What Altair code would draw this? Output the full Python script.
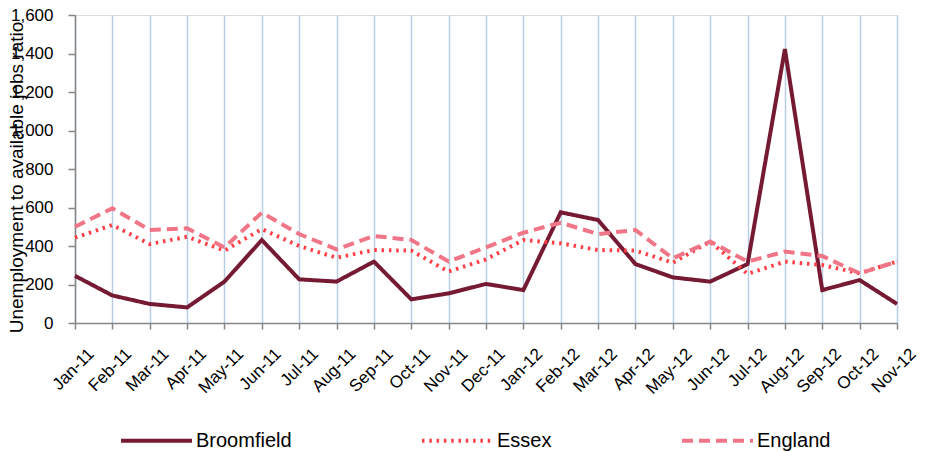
import altair as alt
import pandas as pd

months = ["Jan-11", "Feb-11", "Mar-11", "Apr-11", "May-11", "Jun-11", "Jul-11", "Aug-11",
          "Sep-11", "Oct-11", "Nov-11", "Dec-11", "Jan-12", "Feb-12", "Mar-12", "Apr-12",
          "May-12", "Jun-12", "Jul-12", "Aug-12", "Sep-12", "Oct-12", "Nov-12"]
broomfield = [245, 143, 99, 81, 215, 431, 227, 215, 319, 123, 154, 203,
              171, 575, 535, 306, 237, 215, 306, 1423, 171, 223, 99]
essex = [443, 509, 410, 448, 376, 488, 400, 339, 379, 376, 267, 331,
         431, 414, 379, 376, 313, 423, 255, 319, 301, 258, 319]
england = [500, 596, 483, 492, 393, 573, 462, 383, 452, 431, 319, 393,
           469, 521, 462, 483, 336, 423, 319, 371, 348, 258, 319]
series_names = ["Broomfield", "Essex", "England"]
y_ticks = [0, 200, 400, 600, 800, 1000, 1200, 1400, 1600]

rows = []
for name, vals in zip(series_names, [broomfield, essex, england]):
    for m, v in zip(months, vals):
        rows.append({"month": m, "series": name, "value": v})
df = pd.DataFrame(rows)

FONT = "Liberation Sans"
colors = ["#761A33", "#FF4048", "#F07586"]
dashes = [[1, 0], [2.5, 4.8], [11, 6]]

legend = alt.Legend(
    title=None, orient="none", direction="horizontal", legendX=44, legendY=388,
    symbolType="stroke", symbolSize=5041, symbolStrokeWidth=4, labelFontSize=20,
    labelFont=FONT, labelColor="black", labelOffset=2, columnPadding=122,
    labelLimit=500, padding=0,
)

chart = alt.Chart(df).mark_line(strokeJoin="miter", strokeWidth=4).encode(
    x=alt.X("month:N", sort=months,
            scale=alt.Scale(type="point", padding=0),
            axis=alt.Axis(title=None, labelAngle=-45, labelAlign="right",
                          labelBaseline="middle", labelFontSize=17, labelFont=FONT,
                          labelColor="black", labelPadding=22, labelOffset=16,
                          labelOverlap=False, labelFlush=False,
                          grid=True, gridColor="#B9CDE5", gridWidth=1.5,
                          tickColor="#868686", tickSize=6, tickWidth=1.5,
                          domainColor="#868686", domainWidth=1.5)),
    y=alt.Y("value:Q", scale=alt.Scale(domain=[0, 1600], nice=False),
            axis=alt.Axis(values=y_ticks, format=",d",
                          title="Unemployment to available jobs ratio",
                          titleFont=FONT, titleFontSize=19, titleFontWeight="normal",
                          titleColor="black", titleX=-53, titleY=162, titleAngle=270,
                          titleBaseline="alphabetic", titleAlign="center",
                          labelFont=FONT, labelFontSize=17, labelColor="black",
                          labelPadding=15, grid=False, tickSize=7, tickWidth=1.5,
                          tickColor="#868686", domainColor="#868686", domainWidth=1.5)),
    color=alt.Color("series:N", sort=series_names,
                    scale=alt.Scale(domain=series_names, range=colors), legend=legend),
    strokeDash=alt.StrokeDash("series:N", sort=series_names,
                              scale=alt.Scale(domain=series_names, range=dashes),
                              legend=legend),
).properties(
    width=822, height=308,
    autosize=alt.AutoSizeParams(type="none"),
    padding={"left": 67, "top": 7, "right": 27, "bottom": 129},
).configure_view(stroke=None).configure(background="white")

chart.save("out.html", embed_options={"renderer": "svg", "actions": False})
